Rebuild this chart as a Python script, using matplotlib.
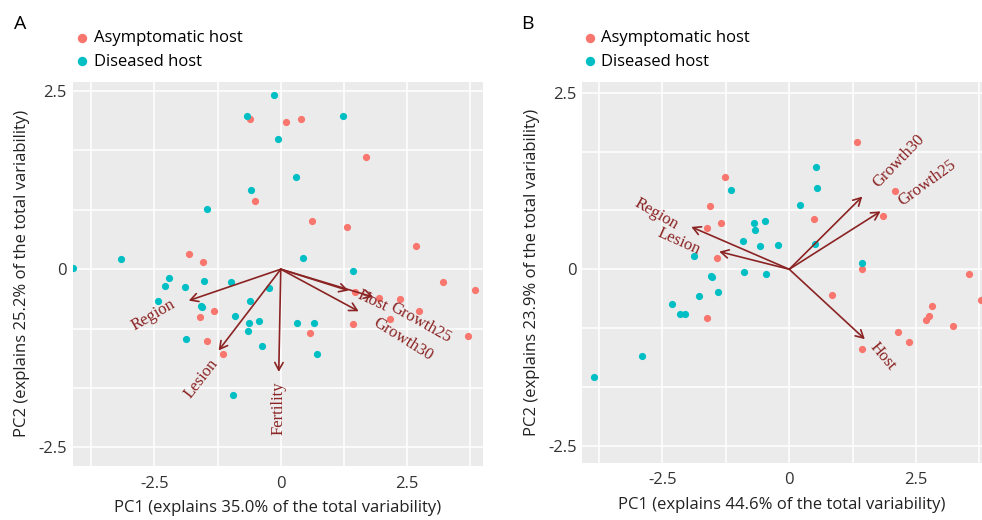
import matplotlib
matplotlib.use('Agg')
import matplotlib.pyplot as plt
import numpy as np

plt.rcParams['font.family'] = ['Open Sans', 'DejaVu Sans']

RED = '#F8766D'
CYAN = '#00BFC4'
ARROW = '#8B2323'

# ---- panel A scores (PC1, PC2) ----
a_asym_x = [-0.60, 0.11, 0.40, -0.51, -1.82, -1.54, 1.68, 0.62, 1.31, 2.68, 3.21, 3.84,
            -1.32, -1.59, -1.46, -1.14, 1.47, 1.94, 2.35, 2.73, 2.16, 1.43, 3.70, 0.58]
a_asym_y = [2.11, 2.07, 2.11, 0.96, 0.21, 0.10, 1.58, 0.68, 0.59, 0.33, -0.18, -0.29,
            -0.58, -0.67, -1.01, -1.19, -0.32, -0.40, -0.42, -0.59, -0.70, -0.77, -0.94, -0.90]
a_dis_x = [-0.13, -0.67, -0.06, 0.30, -0.58, -1.45, -3.16, -4.12, 1.24, 0.43, 1.42,
           -2.22, -2.30, -1.89, -1.51, -0.98, -0.24, -2.43, -0.60, -1.58, -1.56, -0.91,
           -0.63, -0.64, -0.43, 0.32, 0.66, -1.87, -0.37, -0.94, 0.72]
a_dis_y = [2.44, 2.15, 1.82, 1.29, 1.11, 0.85, 0.15, 0.02, 2.15, 0.16, -0.03,
           -0.13, -0.23, -0.25, -0.16, -0.18, -0.27, -0.44, -0.44, -0.52, -0.53, -0.65,
           -0.76, -0.86, -0.72, -0.76, -0.75, -0.98, -1.08, -1.77, -1.19]

# ---- panel A loadings ----
a_vars = ['Region', 'Lesion', 'Fertility', 'Host', 'Growth25', 'Growth30']
a_load_x = [-1.82, -1.23, -0.04, 1.34, 1.83, 1.54]
a_load_y = [-0.44, -1.14, -1.44, -0.30, -0.39, -0.59]
a_lab_x = [-2.52, -1.57, -0.04, 1.82, 2.76, 2.41]
a_lab_y = [-0.65, -1.53, -1.95, -0.44, -0.75, -0.98]
a_lab_rot = [30, 52, 90, -25, -29, -32]

# ---- panel B scores ----
b_asym_x = [-1.27, -1.56, -1.62, -1.35, -1.43, -1.62, 1.34, 2.09, 0.48, 1.85, 1.44,
            0.84, 3.54, 3.78, 2.82, 2.76, 2.69, 3.22, 2.14, 2.36, 1.44]
b_asym_y = [1.31, 0.90, 0.59, 0.65, 0.16, -0.69, 1.80, 1.11, 0.71, 0.76, 0.00,
            -0.36, -0.07, -0.44, -0.52, -0.66, -0.72, -0.80, -0.89, -1.03, -1.13]
b_dis_x = [-1.15, -0.69, -0.47, -0.68, -0.91, -0.58, -0.22, -1.87, -1.54, -1.52, -0.90,
           -0.45, -1.40, -1.78, -2.32, -2.16, -2.06, -2.90, -3.84, 0.52, 0.55, 0.21,
           0.51, 1.44]
b_dis_y = [1.12, 0.65, 0.68, 0.55, 0.40, 0.33, 0.35, 0.19, -0.09, -0.11, -0.04,
           -0.06, -0.32, -0.38, -0.49, -0.64, -0.64, -1.23, -1.53, 1.45, 1.15, 0.91,
           0.36, 0.09]

# ---- panel B loadings ----
b_vars = ['Region', 'Lesion', 'Growth30', 'Growth25', 'Host']
b_load_x = [-1.93, -1.38, 1.44, 1.80, 1.49]
b_load_y = [0.60, 0.25, 1.03, 0.82, -0.99]
b_lab_x = [-2.62, -2.18, 2.16, 2.72, 1.85]
b_lab_y = [0.78, 0.39, 1.54, 1.22, -1.23]
b_lab_rot = [-30, -24, 46, 36, -50]

W, H = 982, 520
fig = plt.figure(figsize=(W / 100, H / 100), dpi=100)


def px_axes(l, t, r, b):
    return fig.add_axes([l / W, 1 - b / H, (r - l) / W, (b - t) / H])


def panel(ax, asym, dis, load, labs, xlim, ylim, pc1, pc2, letter, lx):
    ax.set_facecolor('#EBEBEB')
    for s in ax.spines.values():
        s.set_visible(False)
    ax.set_xlim(*xlim)
    ax.set_ylim(*ylim)
    ax.set_xticks([-2.5, 0, 2.5])
    ax.set_xticklabels(['-2.5', '0', '2.5'])
    ax.set_xticks([-3.75, -1.25, 1.25, 3.75], minor=True)
    ax.set_yticks([-2.5, 0, 2.5])
    ax.set_yticklabels(['-2.5', '0', '2.5'])
    ax.set_yticks([-5 / 3, -5 / 6, 5 / 6, 5 / 3], minor=True)
    ax.grid(True, which='both', color='white', linewidth=1.1)
    ax.set_axisbelow(True)
    ax.tick_params(which='both', length=0, labelsize=12, labelcolor='#333333')
    ax.tick_params(axis='x', pad=7)
    ax.tick_params(axis='y', pad=4)

    ax.scatter(asym[0], asym[1], s=27, color=RED, linewidths=0, label='Asymptomatic host', zorder=3)
    ax.scatter(dis[0], dis[1], s=27, color=CYAN, linewidths=0, label='Diseased host', zorder=3)

    names, lx_, ly_ = load
    for n, x, y in zip(names, lx_, ly_):
        ax.annotate('', xy=(x, y), xytext=(0, 0),
                    arrowprops=dict(arrowstyle='->,head_length=0.55,head_width=0.3',
                                    color=ARROW, lw=1.2, shrinkA=0, shrinkB=0), zorder=4)
    for n, x, y, r in zip(names, *labs):
        ax.text(x, y, n, rotation=r, rotation_mode='anchor', ha='center', va='center',
                fontsize=12, color=ARROW, family=['Liberation Serif', 'DejaVu Serif'], zorder=5)

    ax.set_xlabel(pc1, fontsize=12, color='#222222', labelpad=6)
    ax.set_ylabel(pc2, fontsize=12, color='#222222', labelpad=6)

    ax.legend(loc='center left', bbox_to_anchor=((lx - 16) / W, 1 - 50 / H),
              bbox_transform=fig.transFigure, frameon=False, fontsize=12,
              handletextpad=0.2, labelspacing=0.45, markerscale=1.3, borderpad=0,
              handlelength=1.0)
    fig.text((lx - 62) / W, 1 - 24 / H, letter, fontsize=14, ha='center', va='center')


axA = px_axes(72.5, 81.7, 483, 466)
panel(axA, (a_asym_x, a_asym_y), (a_dis_x, a_dis_y),
      (a_vars, a_load_x, a_load_y), (a_lab_x, a_lab_y, a_lab_rot),
      (-4.12, 4.0), (-2.76, 2.63),
      'PC1 (explains 35.0% of the total variability)',
      'PC2 (explains 25.2% of the total variability)', 'A', 81.7)

axB = px_axes(582.3, 81.7, 982, 462.7)
panel(axB, (b_asym_x, b_asym_y), (b_dis_x, b_dis_y),
      (b_vars, b_load_x, b_load_y), (b_lab_x, b_lab_y, b_lab_rot),
      (-4.08, 3.80), (-2.74, 2.657),
      'PC1 (explains 44.6% of the total variability)',
      'PC2 (explains 23.9% of the total variability)', 'B', 589)

fig.savefig('out.png', dpi=100)
